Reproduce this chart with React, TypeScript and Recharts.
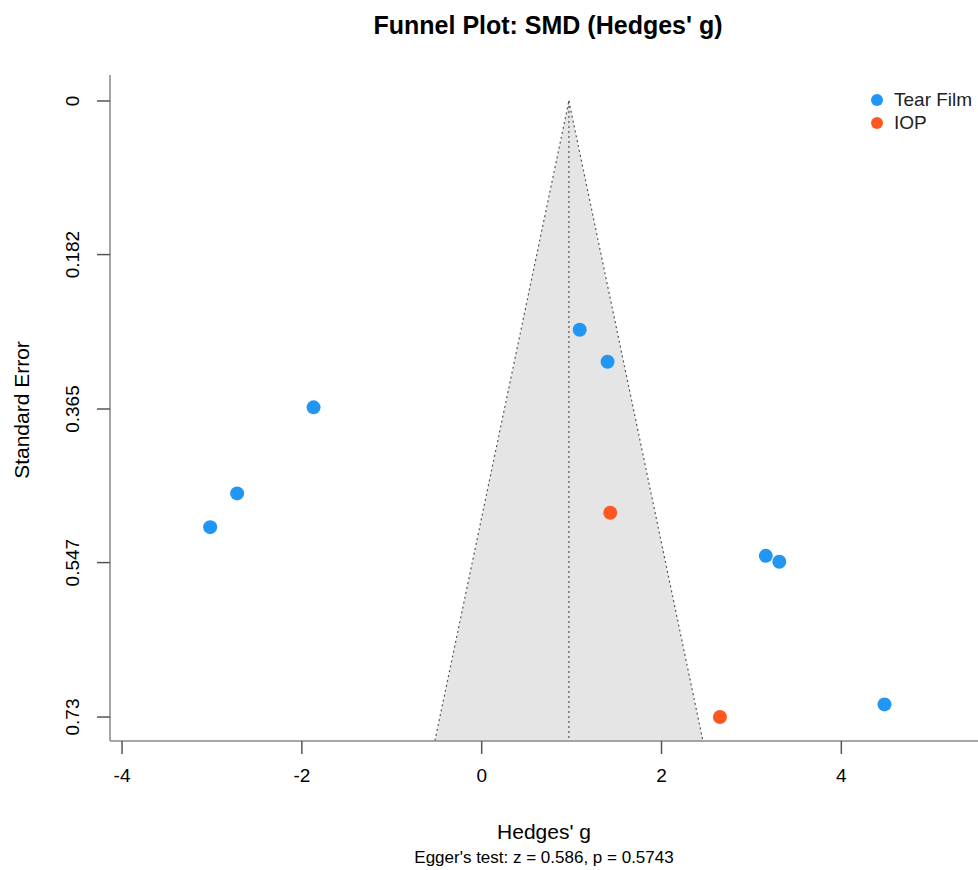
import {
  Area,
  ComposedChart,
  Line,
  Scatter,
  XAxis,
  YAxis
} from 'recharts';

// study effects (Hedges' g) and standard errors
const tearFilm = [
  { x: 1.09, y: 0.271 },
  { x: 1.4, y: 0.309 },
  { x: -1.87, y: 0.363 },
  { x: -2.72, y: 0.465 },
  { x: -3.02, y: 0.505 },
  { x: 3.16, y: 0.539 },
  { x: 3.31, y: 0.546 },
  { x: 4.48, y: 0.715 }
];

const iop = [
  { x: 1.43, y: 0.488 },
  { x: 2.65, y: 0.73 }
];

// funnel: pooled estimate and the 95% limits at the bottom of the plot
const funnelFill = [
  { x: -0.52, y: [0.758, 0.758] },
  { x: 0.97, y: [0, 0.758] },
  { x: 2.46, y: [0.758, 0.758] }
];
const funnelLeft = [
  { x: -0.52, y: 0.758 },
  { x: 0.97, y: 0 }
];
const funnelRight = [
  { x: 0.97, y: 0 },
  { x: 2.46, y: 0.758 }
];
const pooledLine = [
  { x: 0.97, y: 0 },
  { x: 0.97, y: 0.758 }
];

const xTicks = [-4, -2, 0, 2, 4];
const yTicks = [0, 0.182, 0.365, 0.547, 0.73];
const yTickLabels = ['0', '0.182', '0.365', '0.547', '0.73'];

const FONT = '"Liberation Sans", Arial, Helvetica, sans-serif';
const BLUE = '#2196F3';
const ORANGE = '#FF5722';

const YTick = (props: any) => {
  const { x, y, payload } = props;
  const i = yTicks.indexOf(payload.value);
  const cx = x - 16;
  return (
    <text
      x={cx}
      y={y}
      transform={`rotate(-90 ${cx} ${y})`}
      textAnchor="middle"
      fontSize={19}
      fontFamily={FONT}
      fill="#000"
    >
      {i >= 0 ? yTickLabels[i] : payload.value}
    </text>
  );
};

const legendItems = [
  { name: 'Tear Film', color: BLUE },
  { name: 'IOP', color: ORANGE }
];

export default function App() {
  return (
    <div style={{ position: 'relative', width: 978, height: 870, background: '#fff', fontFamily: FONT, overflow: 'hidden' }}>
      <style>{'html,body{margin:0;padding:0;overflow:hidden;}'}</style>
      <div
        style={{
          position: 'absolute',
          left: 0,
          width: 1096,
          top: 10,
          textAlign: 'center',
          fontWeight: 'bold',
          fontSize: 25,
          lineHeight: '30px'
        }}
      >
        Funnel Plot: SMD (Hedges' g)
      </div>
      <ComposedChart width={978} height={870} margin={{ top: 75, right: 0, bottom: 0, left: 0 }}>
        <XAxis
          type="number"
          dataKey="x"
          domain={[-4.134, 5.52]}
          ticks={xTicks}
          allowDataOverflow
          height={129}
          tickSize={13}
          axisLine={{ stroke: '#888', strokeWidth: 1.5 }}
          tickLine={{ stroke: '#555', strokeWidth: 1.5 }}
          tick={{ fontSize: 19, fontFamily: FONT, fill: '#000', dy: 13 }}
        />
        <YAxis
          type="number"
          dataKey="y"
          reversed
          domain={[-0.0308, 0.7584]}
          ticks={yTicks}
          allowDataOverflow
          width={110}
          tickSize={13}
          axisLine={{ stroke: '#888', strokeWidth: 1.5 }}
          tickLine={{ stroke: '#555', strokeWidth: 1.5 }}
          tick={<YTick />}
        />
        <Area
          data={funnelFill}
          dataKey="y"
          type="linear"
          stroke="none"
          fill="#e5e5e5"
          fillOpacity={1}
          isAnimationActive={false}
          legendType="none"
        />
        <Line data={funnelLeft} dataKey="y" type="linear" stroke="#555" strokeWidth={1.2} strokeDasharray="2 3" dot={false} isAnimationActive={false} legendType="none" />
        <Line data={funnelRight} dataKey="y" type="linear" stroke="#555" strokeWidth={1.2} strokeDasharray="2 3" dot={false} isAnimationActive={false} legendType="none" />
        <Line data={pooledLine} dataKey="y" type="linear" stroke="#555" strokeWidth={1.2} strokeDasharray="2 3" dot={false} isAnimationActive={false} legendType="none" />
        <Scatter name="Tear Film" data={tearFilm} fill={BLUE} shape={(p: any) => <circle cx={p.cx} cy={p.cy} r={7} fill={BLUE} />} isAnimationActive={false} />
        <Scatter name="IOP" data={iop} fill={ORANGE} shape={(p: any) => <circle cx={p.cx} cy={p.cy} r={7} fill={ORANGE} />} isAnimationActive={false} />
      </ComposedChart>
      <div style={{ position: 'absolute', left: 871, top: 88, fontSize: 19, color: '#222', lineHeight: '23px' }}>
        {legendItems.map((s) => (
          <div key={s.name} style={{ display: 'flex', alignItems: 'center', whiteSpace: 'nowrap' }}>
            <span
              style={{
                display: 'inline-block',
                width: 12,
                height: 12,
                borderRadius: 6,
                background: s.color,
                marginRight: 11
              }}
            />
            {s.name}
          </div>
        ))}
      </div>
      <div
        style={{
          position: 'absolute',
          left: 22,
          top: 410,
          transform: 'translate(-50%, -50%) rotate(-90deg)',
          fontSize: 21,
          whiteSpace: 'nowrap',
          lineHeight: '24px'
        }}
      >
        Standard Error
      </div>
      <div style={{ position: 'absolute', left: 110, width: 868, top: 819, textAlign: 'center', fontSize: 21, lineHeight: '26px' }}>
        Hedges' g
      </div>
      <div style={{ position: 'absolute', left: 110, width: 868, top: 848, textAlign: 'center', fontSize: 17, lineHeight: '20px' }}>
        Egger's test: z = 0.586, p = 0.5743
      </div>
    </div>
  );
}
